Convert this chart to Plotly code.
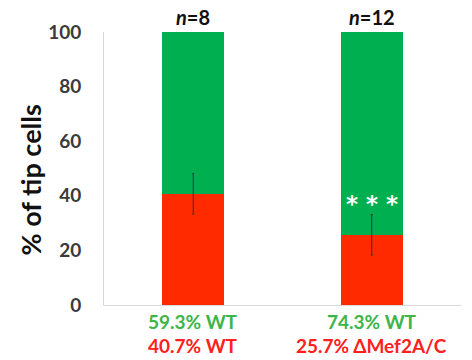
import plotly.graph_objects as go

categories = ["ctrl", "mut"]
red_pct = [40.7, 25.7]
green_pct = [59.3, 74.3]
err = [7.4, 7.4]
n_labels = ["<i>n</i>=8", "<i>n</i>=12"]
green_labels = ["59.3% WT", "74.3% WT"]
red_labels = ["40.7% WT", "25.7% ΔMef2A/C"]
sig = ["", "* * *"]
sig_y = [38, 38]
y_title = "% of tip cells"

RED = "#ff2a00"
GREEN = "#00b050"
FONT = "Lato, 'Open Sans', sans-serif"

fig = go.Figure()
fig.add_bar(x=categories, y=red_pct, marker_color=RED, width=0.35, marker_line_width=0)
fig.add_bar(x=categories, y=green_pct, marker_color=GREEN, width=0.35, marker_line_width=0)
fig.add_scatter(x=categories, y=red_pct, mode="markers", marker=dict(size=0.1, color="rgba(0,0,0,0)"),
                error_y=dict(type="data", array=err, color="#333333", thickness=1, width=1))

for i, c in enumerate(categories):
    fig.add_annotation(x=c, y=1.0, xref="x", yref="paper", yanchor="bottom", yshift=1,
                       text=f"<b>{n_labels[i]}</b>", showarrow=False,
                       font=dict(family=FONT, size=20, color="#111111"))
    fig.add_annotation(x=c, y=0, xref="x", yref="paper", yanchor="top", yshift=-3,
                       text=f"<b>{green_labels[i]}</b>", showarrow=False,
                       font=dict(family=FONT, size=19, color="#3cb54a"))
    fig.add_annotation(x=c, y=0, xref="x", yref="paper", yanchor="top", yshift=-27,
                       text=f"<b>{red_labels[i]}</b>", showarrow=False,
                       font=dict(family=FONT, size=19, color="#ff2020"))
    if sig[i]:
        fig.add_annotation(x=c, y=sig_y[i], xref="x", yref="y", text=f"<b>{sig[i]}</b>",
                           showarrow=False, yshift=-3,
                           font=dict(family="DejaVu Sans", size=23, color="white"))

fig.add_annotation(x=0, y=0.5, xref="paper", yref="paper", xanchor="center", yanchor="middle",
                   xshift=-74, yshift=-12,
                   text=f"<b>{y_title}</b>", textangle=-90, showarrow=False,
                   font=dict(family=FONT, size=27, color="#111111"))

fig.update_layout(
    barmode="stack", width=472, height=360, showlegend=False,
    margin=dict(l=104, r=11, t=32, b=55),
    plot_bgcolor="white", paper_bgcolor="white",
    xaxis=dict(range=[-0.5, 1.5], showticklabels=False, showline=True, linecolor="#d9d9d9",
               linewidth=1, showgrid=False, zeroline=False, ticks=""),
    yaxis=dict(range=[0, 100], tickvals=[0, 20, 40, 60, 80, 100], showline=True, linecolor="#d9d9d9",
               linewidth=1, showgrid=False, zeroline=False, ticks="", ticklabelstandoff=18,
               tickfont=dict(family=FONT, size=19, color="#3a3a3a", weight="bold")),
)
fig.write_html("out.html")
